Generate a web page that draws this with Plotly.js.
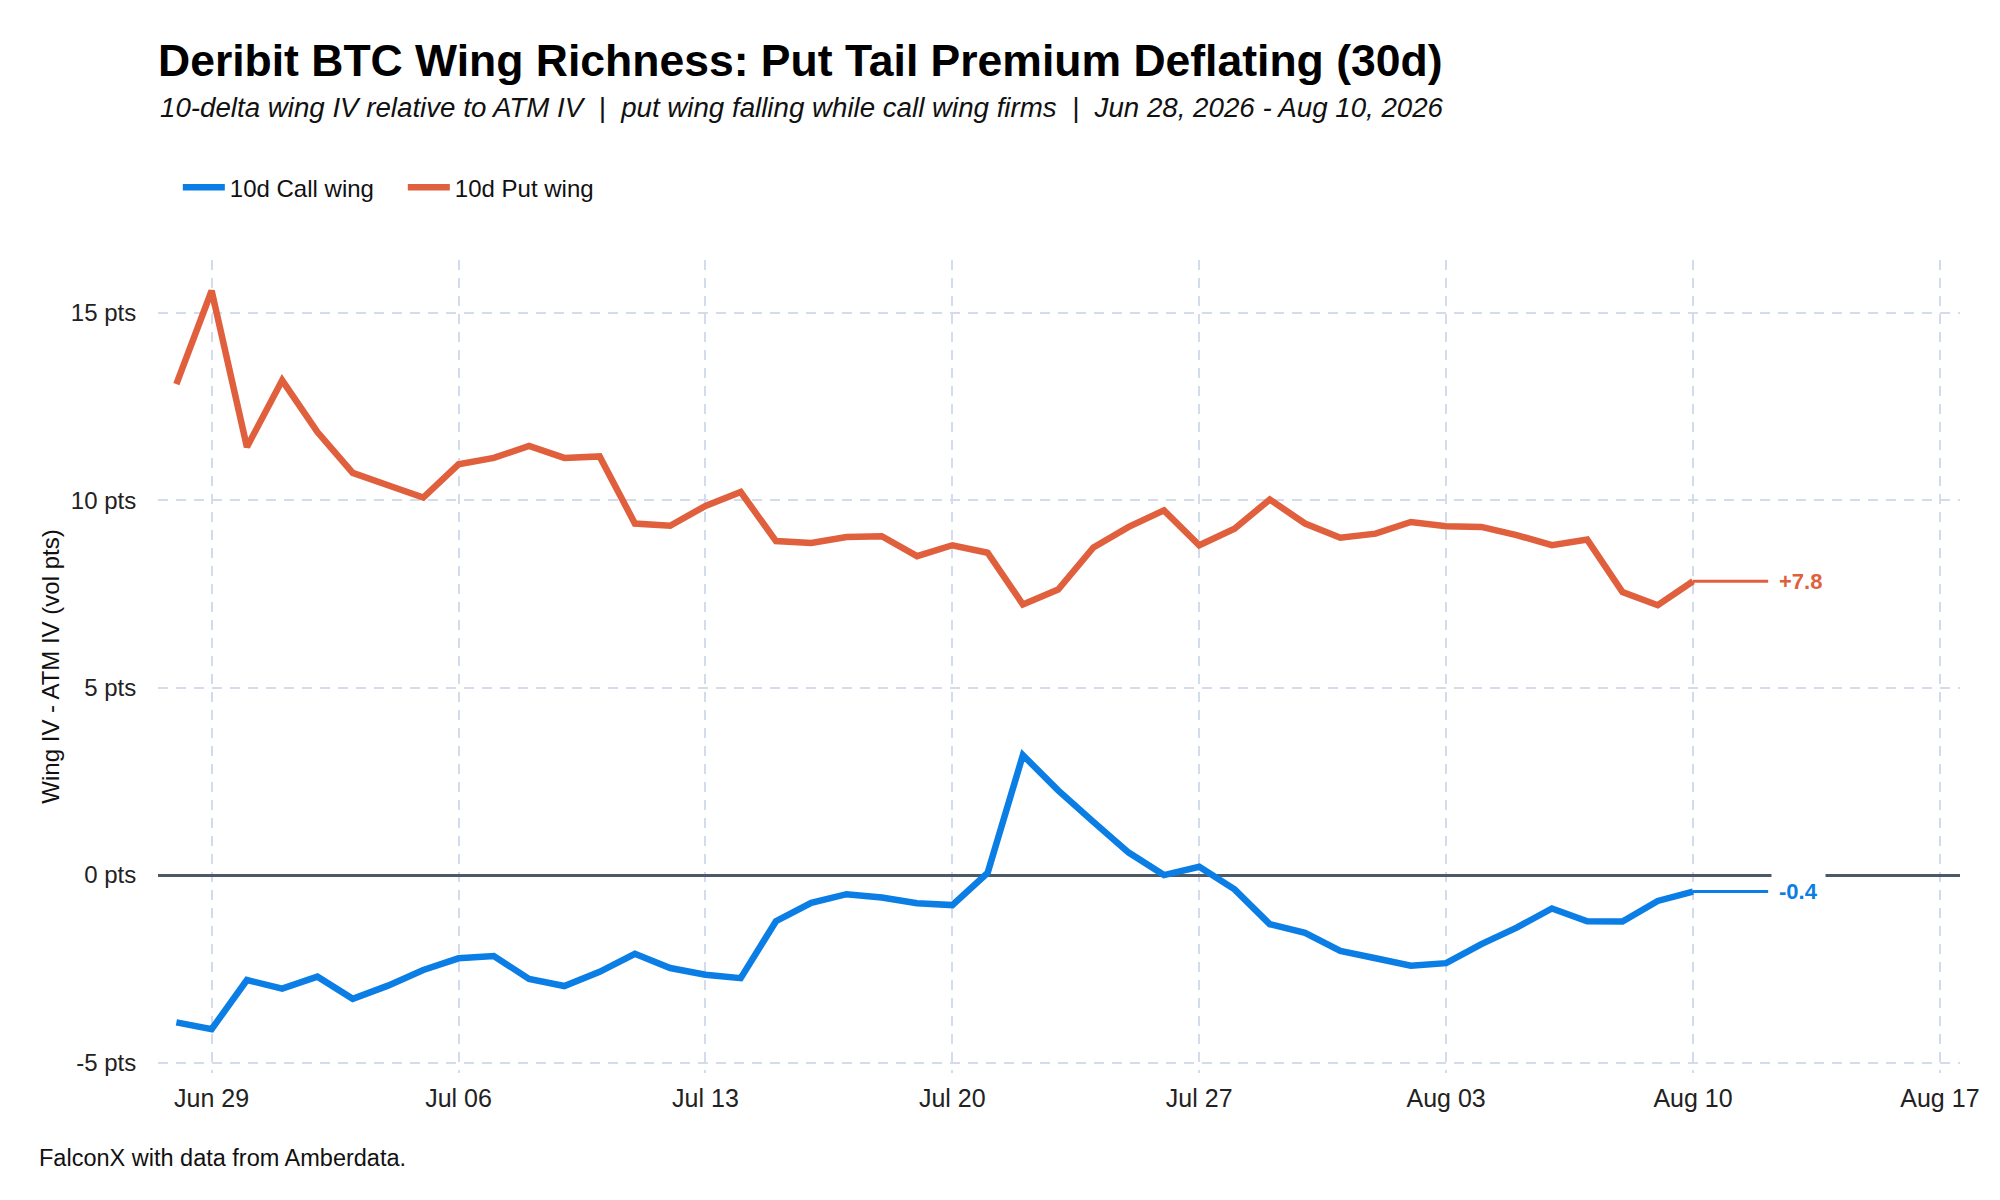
<!DOCTYPE html>
<html>
<head>
<meta charset="utf-8">
<script src="https://cdn.plot.ly/plotly-3.0.1.min.js"></script>
<style>
  html, body { margin: 0; padding: 0; background: #fff; }
  #plot { width: 2000px; height: 1200px; }
</style>
</head>
<body>
<div id="plot"></div>
<script>
const dates = [
  "2026-06-28", "2026-06-29", "2026-06-30",
  "2026-07-01", "2026-07-02", "2026-07-03", "2026-07-04", "2026-07-05",
  "2026-07-06", "2026-07-07", "2026-07-08", "2026-07-09", "2026-07-10",
  "2026-07-11", "2026-07-12", "2026-07-13", "2026-07-14", "2026-07-15",
  "2026-07-16", "2026-07-17", "2026-07-18", "2026-07-19", "2026-07-20",
  "2026-07-21", "2026-07-22", "2026-07-23", "2026-07-24", "2026-07-25",
  "2026-07-26", "2026-07-27", "2026-07-28", "2026-07-29", "2026-07-30",
  "2026-07-31", "2026-08-01", "2026-08-02", "2026-08-03", "2026-08-04",
  "2026-08-05", "2026-08-06", "2026-08-07", "2026-08-08", "2026-08-09",
  "2026-08-10"
];

const callWing = [
  -3.93, -4.11, -2.80,
  -3.03, -2.71, -3.30, -2.95, -2.53,
  -2.22, -2.16, -2.77, -2.96, -2.58,
  -2.10, -2.48, -2.66, -2.75, -1.23,
  -0.74, -0.51, -0.60, -0.75, -0.80,
  0.06, 3.20, 2.26, 1.42, 0.60,
  0.00, 0.22, -0.38, -1.31, -1.54,
  -2.02, -2.22, -2.42, -2.35, -1.84,
  -1.40, -0.89, -1.23, -1.24, -0.69,
  -0.44
];

const putWing = [
  13.10, 15.59, 11.42,
  13.20, 11.82, 10.73, 10.40, 10.07,
  10.96, 11.13, 11.45, 11.13, 11.17,
  9.38, 9.32, 9.85, 10.22, 8.91,
  8.86, 9.02, 9.04, 8.51, 8.80,
  8.60, 7.22, 7.62, 8.74, 9.29,
  9.73, 8.80, 9.24, 10.02, 9.38,
  9.00, 9.11, 9.42, 9.31, 9.29,
  9.07, 8.80, 8.95, 7.55, 7.20,
  7.84
];

const xTickVals = ["2026-06-29", "2026-07-06", "2026-07-13", "2026-07-20",
                   "2026-07-27", "2026-08-03", "2026-08-10", "2026-08-17"];
const yTickVals = [-5, 0, 5, 10, 15];
const yTickText = ["-5 pts", "0 pts", "5 pts", "10 pts", "15 pts"];

const CALL_COLOR = "#0a7ee4";
const PUT_COLOR = "#e0603e";
const GRID = "#d3dced";
const FONT = "Liberation Sans, Arial, Helvetica, sans-serif";

// end-label placement: a short leader then the value
const DAY = 86400000;
const lastDate = dates[dates.length - 1];
const leaderEnd = new Date(Date.parse(lastDate) + 2.13 * DAY).toISOString();
const labelX = new Date(Date.parse(lastDate) + 2.2 * DAY).toISOString();

function fmt(v) {
  const s = v.toFixed(1);
  return v > 0 ? "+" + s : s;
}

const series = [
  { name: "10d Call wing", y: callWing, color: CALL_COLOR },
  { name: "10d Put wing", y: putWing, color: PUT_COLOR },
];

const traces = [];
series.forEach((s) => {
  traces.push({
    x: dates,
    y: s.y,
    type: "scatter",
    mode: "lines",
    name: s.name,
    line: { color: s.color, width: 6.5 },
    hoverinfo: "skip",
  });
});
series.forEach((s) => {
  const last = s.y[s.y.length - 1];
  traces.push({
    x: [lastDate, leaderEnd],
    y: [last, last],
    type: "scatter",
    mode: "lines",
    showlegend: false,
    line: { color: s.color, width: 3 },
    hoverinfo: "skip",
  });
});

const annotations = series.map((s) => {
  const last = s.y[s.y.length - 1];
  return {
    x: labelX,
    y: last,
    xref: "x",
    yref: "y",
    text: "<b>" + fmt(last) + "</b>",
    showarrow: false,
    xanchor: "left",
    yanchor: "middle",
    bgcolor: "#ffffff",
    borderpad: 7,
    font: { family: FONT, size: 22, color: s.color },
  };
});

annotations.push({
  text: "<i>10-delta wing IV relative to ATM IV  |  put wing falling while call wing firms  |  Jun 28, 2026 - Aug 10, 2026</i>",
  xref: "paper", yref: "paper",
  x: 0, y: 1.187,
  xanchor: "left", yanchor: "middle",
  showarrow: false,
  font: { family: FONT, size: 27.7, color: "#111" },
});
annotations.push({
  text: "FalconX with data from Amberdata.",
  xref: "paper", yref: "paper",
  x: -0.067, y: -0.105,
  xanchor: "left", yanchor: "middle",
  showarrow: false,
  font: { family: FONT, size: 23.5, color: "#111" },
});

const layout = {
  width: 2000,
  height: 1200,
  margin: { l: 158, r: 40, t: 260, b: 127 },
  paper_bgcolor: "#ffffff",
  plot_bgcolor: "#ffffff",
  font: { family: FONT, size: 24, color: "#222" },
  title: {
    text: "<b>Deribit BTC Wing Richness: Put Tail Premium Deflating (30d)</b>",
    font: { family: FONT, size: 44.5, color: "#000" },
    xref: "paper",
    x: 0,
    xanchor: "left",
    yref: "container",
    y: 0.95,
    yanchor: "middle",
  },
  showlegend: true,
  legend: {
    orientation: "h",
    x: 0.011,
    xanchor: "left",
    y: 1.089,
    yanchor: "middle",
    itemwidth: 42,
    entrywidth: 168,
    entrywidthmode: "pixels",
    font: { family: FONT, size: 24, color: "#111" },
    bgcolor: "rgba(0,0,0,0)",
  },
  xaxis: {
    type: "date",
    range: ["2026-06-27 11:30", "2026-08-17 13:40"],
    tickvals: xTickVals,
    tickformat: "%b %d",
    showgrid: true,
    gridcolor: GRID,
    gridwidth: 2,
    griddash: "10px,8px",
    zeroline: false,
    showline: false,
    ticks: "outside",
    ticklen: 3,
    tickcolor: "rgba(0,0,0,0)",
    tickfont: { family: FONT, size: 25, color: "#222" },
  },
  yaxis: {
    range: [-5.28, 16.41],
    tickvals: yTickVals,
    ticktext: yTickText,
    showgrid: true,
    gridcolor: GRID,
    gridwidth: 2,
    griddash: "10px,8px",
    zeroline: true,
    zerolinecolor: "#4b5a66",
    zerolinewidth: 3,
    showline: false,
    ticks: "outside",
    ticklen: 16,
    tickcolor: "rgba(0,0,0,0)",
    tickfont: { family: FONT, size: 24, color: "#222" },
    title: {
      text: "Wing IV - ATM IV (vol pts)",
      font: { family: FONT, size: 24, color: "#111" },
      standoff: 4,
    },
  },
  annotations: annotations,
};

Plotly.newPlot("plot", traces, layout, { displayModeBar: false, staticPlot: true });
</script>
</body>
</html>
